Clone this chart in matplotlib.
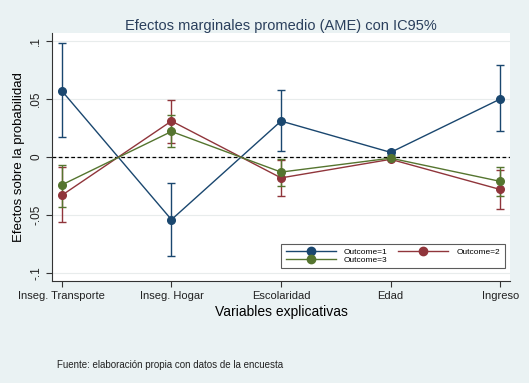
import numpy as np
import matplotlib
matplotlib.use("Agg")
import matplotlib.pyplot as plt
from matplotlib.lines import Line2D

plt.rcParams['font.family'] = ['Liberation Sans', 'DejaVu Sans']

# data
variables = ["Inseg. Transporte", "Inseg. Hogar", "Escolaridad", "Edad", "Ingreso"]

ame_1 = [0.057, -0.054, 0.031, 0.004, 0.050]
lo_1 = [0.017, -0.085, 0.005, 0.002, 0.022]
hi_1 = [0.098, -0.022, 0.058, 0.006, 0.079]

ame_2 = [-0.033, 0.031, -0.018, -0.002, -0.028]
lo_2 = [-0.056, 0.012, -0.034, -0.003, -0.045]
hi_2 = [-0.009, 0.049, -0.003, -0.001, -0.011]

ame_3 = [-0.024, 0.022, -0.013, -0.001, -0.021]
lo_3 = [-0.043, 0.009, -0.025, -0.002, -0.034]
hi_3 = [-0.007, 0.036, -0.002, 0.000, -0.009]

yticks = [-0.1, -0.05, 0, 0.05, 0.1]
ytick_labels = ["-.1", "-.05", "0", ".05", ".1"]

bg = "#eaf2f3"
c1, c2, c3 = "#1a476f", "#90353b", "#55752f"

fig = plt.figure(figsize=(5.29, 3.83), dpi=100, facecolor=bg)
ax = fig.add_axes([0.0983, 0.2663, 0.866, 0.6475])
ax.set_facecolor("white")

x = np.arange(1, len(variables) + 1)

for ax_y in yticks:
    ax.axhline(ax_y, color="#e8ecec", lw=0.8, zorder=0)
ax.axhline(0, color="black", lw=0.9, ls=(0, (3, 2)), zorder=1)

series = [(ame_1, lo_1, hi_1, c1, "Outcome=1"),
          (ame_2, lo_2, hi_2, c2, "Outcome=2"),
          (ame_3, lo_3, hi_3, c3, "Outcome=3")]
proxies = {}
for ame, lo, hi, col, lab in series:
    ame = np.array(ame)
    err = [ame - np.array(lo), np.array(hi) - ame]
    ax.errorbar(x, ame, yerr=err, color=col, lw=1.0, marker="o", ms=5.5,
                capsize=3, elinewidth=1.0, capthick=1.0, zorder=3)
    proxies[lab] = Line2D([], [], color=col, lw=1.0, marker="o", ms=6)

ax.set_xlim(0.91, 5.09)
ax.set_ylim(-0.1069, 0.1069)
ax.set_xticks(x)
ax.set_xticklabels(variables, fontsize=8, color="#222222")
ax.set_yticks(yticks)
ax.set_yticklabels(ytick_labels, fontsize=8.5, rotation=90, va="center", color="#222222")

for s in ["top", "right"]:
    ax.spines[s].set_visible(False)
for s in ["left", "bottom"]:
    ax.spines[s].set_color("#333333")
    ax.spines[s].set_linewidth(0.8)
ax.tick_params(axis="both", length=4, width=0.8, color="#333333", pad=3)

ax.set_xlabel("Variables explicativas", fontsize=10, labelpad=3)
ax.set_ylabel("Efectos sobre la probabilidad", fontsize=9.5, labelpad=4)
ax.set_title("Efectos marginales promedio (AME) con IC95%", fontsize=10.5,
             color="#2a3f5c", pad=2)

leg = ax.legend([proxies["Outcome=1"], proxies["Outcome=3"], proxies["Outcome=2"]],
                ["Outcome=1", "Outcome=3", "Outcome=2"],
                ncol=2, loc="lower right", bbox_to_anchor=(0.997, 0.035),
                fontsize=6, frameon=True, fancybox=False, edgecolor="#333333",
                handlelength=6, columnspacing=1.3, labelspacing=0.05,
                borderpad=0.5, handletextpad=1.0)
leg.get_frame().set_linewidth(0.8)

fig.text(0.108, 0.04, "Fuente: elaboración propia con datos de la encuesta",
         fontsize=7, color="#222222")

fig.savefig("out.png", dpi=100, facecolor=bg)
